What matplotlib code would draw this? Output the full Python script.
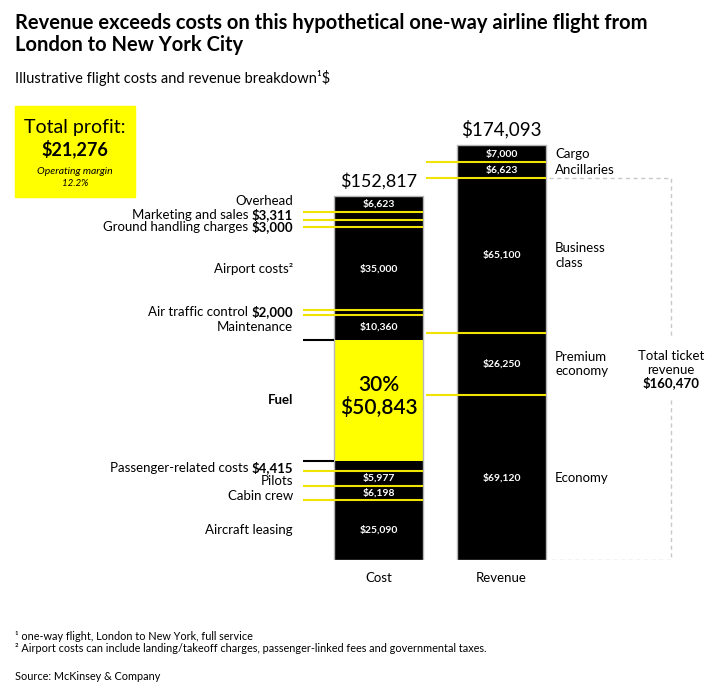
"""Airline flight cost vs revenue stacked bars (London -> NYC, one way)."""

import matplotlib

matplotlib.use("Agg")
import matplotlib.pyplot as plt
from matplotlib.patches import Rectangle

plt.rcParams["font.family"] = ["Lato", "DejaVu Sans"]

# ---- data (top of bar first) ----
cost_labels = [
    "Overhead", "Marketing and sales", "Ground handling charges", "Airport costs\u00b2",
    "Air traffic control", "Maintenance", "Fuel", "Passenger-related costs",
    "Pilots", "Cabin crew", "Aircraft leasing",
]
cost_values = [6623, 3311, 3000, 35000, 2000, 10360, 50843, 4415, 5977, 6198, 25090]
# items whose value is written next to the label instead of inside the bar
value_in_label = ["Marketing and sales", "Ground handling charges",
                  "Air traffic control", "Passenger-related costs"]
fuel_share = "30%"

rev_labels = ["Cargo", "Ancillaries", "Business\nclass", "Premium\neconomy", "Economy"]
rev_values = [7000, 6623, 65100, 26250, 69120]
ticket_items = ["Business\nclass", "Premium\neconomy", "Economy"]

categories = ["Cost", "Revenue"]
profit = 21276
margin = "12.2%"

# ---- style ----
YELLOW = "#ffff00"
LINE_YEL = "#f0e400"
EDGE = "#b5b5b5"
W = 0.72
FIG_W, FIG_H = 715, 698
label_nudge = [2, 1, -2, 0, 1, 0, 0, -1, -2, -2, 0]  # points


def money(v):
    return f"${v:,.0f}"


fig = plt.figure(figsize=(FIG_W / 100, FIG_H / 100), dpi=100)
renderer = fig.canvas.get_renderer()

# axes: x in category units (123 px apart), y in dollars (~420 $/px)
ymax = 180000
ax_bottom = 560
ax_h = ymax / 420
ax = fig.add_axes([0, 1 - ax_bottom / FIG_H, 1, ax_h / FIG_H])
ax.set_facecolor("none")
ax.set_xlim(-378.5 / 123, (FIG_W - 378.5) / 123)
ax.set_ylim(0, ymax)
for s in ax.spines.values():
    s.set_visible(False)
ax.set_yticks([])
ax.set_xticks([0, 1], categories, fontsize=9.5)
ax.tick_params(axis="x", length=0, pad=9)

cost_total = sum(cost_values)
rev_total = sum(rev_values)

# ---- cost bar ----
top = cost_total
cost_bottoms = []
for lab, v in zip(cost_labels, cost_values):
    cost_bottoms.append(top - v)
    top -= v
colors = [YELLOW if lab == "Fuel" else "black" for lab in cost_labels]
ax.bar(0, cost_values, W, bottom=cost_bottoms, color=colors, edgecolor="none", zorder=2)
ax.bar(0, cost_total, W, color="none", edgecolor=EDGE, lw=1, zorder=3)

x_line0 = -W / 2 - 0.25
fuel_i = cost_labels.index("Fuel")
for i, b in enumerate(cost_bottoms[:-1]):
    if i in (fuel_i - 1, fuel_i):
        ax.plot([x_line0, -W / 2], [b, b], color="black", lw=1.5, zorder=4,
                solid_capstyle="butt")
    else:
        ax.plot([x_line0, W / 2], [b, b], color=LINE_YEL, lw=1.5, zorder=4,
                solid_capstyle="butt")

x_lab = -0.695
for i, (lab, v, b) in enumerate(zip(cost_labels, cost_values, cost_bottoms)):
    yc = b + v / 2
    off = dict(textcoords="offset points", xytext=(0, label_nudge[i]))
    if lab == "Fuel":
        ax.annotate(lab, (x_lab, yc), ha="right", va="center", fontsize=9.5,
                    fontweight="bold", **off)
        ax.annotate(fuel_share, (0, yc), ha="center", va="bottom", fontsize=15,
                    fontweight="semibold", textcoords="offset points", xytext=(0, 4))
        ax.annotate(money(v), (0, yc), ha="center", va="top", fontsize=15,
                    fontweight="semibold", textcoords="offset points", xytext=(0, 2))
    elif lab in value_in_label:
        base = dict(ha="right", va="baseline", fontsize=9.5, textcoords="offset points")
        dy = label_nudge[i] - 3.4
        t = ax.annotate(money(v), (x_lab, yc), fontweight="bold", xytext=(0, dy), **base)
        wpt = t.get_window_extent(renderer).width * 72 / fig.dpi
        ax.annotate(lab + " ", (x_lab, yc), xytext=(-wpt, dy), **base)
    else:
        ax.annotate(lab, (x_lab, yc), ha="right", va="center", fontsize=9.5, **off)
        ax.text(0, yc, money(v), ha="center", va="center", fontsize=7.5,
                fontweight="bold", color="white", zorder=5)

ax.annotate(money(cost_total), (0, cost_total), ha="center", va="bottom", fontsize=13,
            textcoords="offset points", xytext=(0, 5))

# ---- revenue bar ----
top = rev_total
rev_bottoms = []
for v in rev_values:
    rev_bottoms.append(top - v)
    top -= v
ax.bar(1, rev_values, W, bottom=rev_bottoms, color="black", edgecolor="none", zorder=2)
ax.bar(1, rev_total, W, color="none", edgecolor=EDGE, lw=1, zorder=3)
for b in rev_bottoms[:-1]:
    ax.plot([(426 - 378.5) / 123, 1 + W / 2], [b, b], color=LINE_YEL, lw=1.5,
            zorder=4, solid_capstyle="butt")

x_rlab = (555 - 378.5) / 123
for lab, v, b in zip(rev_labels, rev_values, rev_bottoms):
    yc = b + v / 2
    ax.text(1, yc, money(v), ha="center", va="center", fontsize=7.5,
            fontweight="bold", color="white", zorder=5)
    ax.text(x_rlab, yc, lab, ha="left", va="center", fontsize=9.5, linespacing=1.25)

ax.annotate(money(rev_total), (1, rev_total), ha="center", va="bottom", fontsize=13.5,
            textcoords="offset points", xytext=(0, 5))

# ---- ticket revenue bracket ----
ticket_total = sum(v for lab, v in zip(rev_labels, rev_values) if lab in ticket_items)
x_br = (671 - 378.5) / 123
x_r = 1 + W / 2
mid = ticket_total / 2
gap = 13000
dash = dict(color="#c8c8c8", lw=1, ls=(0, (3, 2.5)), zorder=1)
ax.plot([x_r + 0.03, x_br, x_br], [ticket_total, ticket_total, mid + gap], **dash)
ax.plot([x_br, x_br, x_r + 0.03], [mid - gap, 0, 0], **dash)
ax.annotate("Total ticket\nrevenue", (x_br, mid), ha="center", va="bottom", fontsize=9.5,
            linespacing=1.15, textcoords="offset points", xytext=(0, -5))
ax.annotate(money(ticket_total), (x_br, mid), ha="center", va="top", fontsize=9.5,
            fontweight="bold", textcoords="offset points", xytext=(0, -5))

# ---- profit box ----
fig.add_artist(Rectangle((15 / FIG_W, 1 - 197 / FIG_H), 120 / FIG_W, 91 / FIG_H,
                         transform=fig.transFigure, color=YELLOW, zorder=0))
cx = 75 / FIG_W
fig.text(cx, 1 - 127 / FIG_H, "Total profit:", ha="center", va="center", fontsize=14)
fig.text(cx, 1 - 149 / FIG_H, money(profit), ha="center", va="center", fontsize=13,
         fontweight="bold")
fig.text(cx, 1 - 172 / FIG_H, "Operating margin", ha="center", va="center",
         fontsize=7.5, style="italic")
fig.text(cx, 1 - 184 / FIG_H, margin, ha="center", va="center", fontsize=7,
         style="italic")

# ---- titles / notes ----
fig.text(15 / FIG_W, 1 - 13 / FIG_H,
         "Revenue exceeds costs on this hypothetical one-way airline flight from\n"
         "London to New York City",
         ha="left", va="top", fontsize=14.5, fontweight="bold", linespacing=1.15)
fig.text(15 / FIG_W, 1 - 78 / FIG_H, "Illustrative flight costs and revenue breakdown\u00b9$",
         ha="left", va="center", fontsize=10.5)
fig.text(15 / FIG_W, 1 - 636 / FIG_H, "\u00b9 one-way flight, London to New York, full service",
         ha="left", va="center", fontsize=7.8)
fig.text(15 / FIG_W, 1 - 649 / FIG_H,
         "\u00b2 Airport costs can include landing/takeoff charges, passenger-linked fees "
         "and governmental taxes.",
         ha="left", va="center", fontsize=7.8)
fig.text(15 / FIG_W, 1 - 676 / FIG_H, "Source: McKinsey & Company", ha="left",
         va="center", fontsize=7.8)

fig.savefig("out.png", dpi=100)
